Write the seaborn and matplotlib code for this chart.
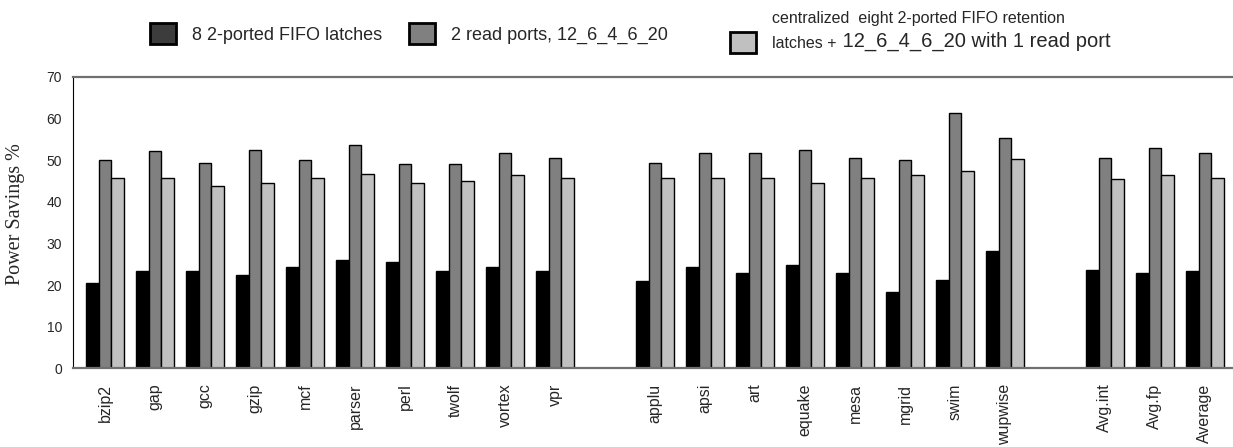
import matplotlib
matplotlib.use("Agg")
import matplotlib.pyplot as plt
from matplotlib.patches import Patch
import numpy as np
import pandas as pd
import seaborn as sns

# Benchmarks (integer suite, floating-point suite, averages)
int_benchmarks = ["bzip2", "gap", "gcc", "gzip", "mcf", "parser", "perl", "twolf", "vortex", "vpr"]
fp_benchmarks = ["applu", "apsi", "art", "equake", "mesa", "mgrid", "swim", "wupwise"]
avg_labels = ["Avg.int", "Avg.fp", "Average"]

series_names = [
    "8 2-ported FIFO latches",
    "2 read ports, 12_6_4_6_20",
    "centralized  eight 2-ported FIFO retention latches + 12_6_4_6_20 with 1 read port",
]

# Power savings (%) per benchmark, one list per configuration
fifo_latches = [20.5, 23.4, 23.4, 22.4, 24.3, 26.0, 25.5, 23.4, 24.3, 23.4,
                21.0, 24.3, 22.9, 24.8, 22.9, 18.3, 21.2, 28.2,
                23.6, 22.9, 23.4]
two_read_ports = [50.0, 52.1, 49.4, 52.3, 50.0, 53.5, 49.0, 49.0, 51.6, 50.4,
                  49.4, 51.6, 51.8, 52.3, 50.6, 49.9, 61.4, 55.4,
                  50.6, 52.8, 51.6]
retention_one_port = [45.6, 45.8, 43.7, 44.4, 45.8, 46.6, 44.4, 44.9, 46.3, 45.6,
                      45.8, 45.8, 45.8, 44.6, 45.6, 46.3, 47.3, 50.2,
                      45.4, 46.3, 45.8]

benchmarks = int_benchmarks + fp_benchmarks + avg_labels
df = pd.DataFrame({
    "benchmark": benchmarks * 3,
    "config": np.repeat(series_names, len(benchmarks)),
    "savings": fifo_latches + two_read_ports + retention_one_port,
})

# Blank slots separate the integer, floating-point and average groups
order = int_benchmarks + [" "] + fp_benchmarks + ["  "] + avg_labels
bar_colors = ["#000000", "#808080", "#c0c0c0"]

sns.set_style("white")
plt.rcParams["font.family"] = ["Liberation Sans", "DejaVu Sans"]

fig = plt.figure(figsize=(12.33, 4.47), dpi=100)
ax = fig.add_axes([0.0592, 0.176, 0.944, 0.6523])

sns.barplot(
    data=df, x="benchmark", y="savings", hue="config",
    order=order, hue_order=series_names, palette=bar_colors,
    width=0.75, gap=0, saturation=1, errorbar=None,
    edgecolor="black", linewidth=1.0, legend=False, ax=ax,
)

ax.set_xlim(-0.64, len(order) - 0.36)
ax.set_ylim(0, 70)
ax.set_yticks(np.arange(0, 71, 10))
ax.set_xlabel("")
ax.set_ylabel("Power Savings %", family=["Liberation Serif", "DejaVu Serif"],
              fontsize=14.5)
ax.yaxis.set_label_coords(-0.041, 0.53)

ax.tick_params(axis="y", length=0, pad=8, labelsize=10)
ax.tick_params(axis="x", length=0, pad=11, labelsize=11.5, labelrotation=90)

for side in ("top", "bottom"):
    ax.spines[side].set_color("#707070")
    ax.spines[side].set_linewidth(1.6)
ax.spines["left"].set_color("black")
ax.spines["left"].set_linewidth(0.8)
ax.spines["right"].set_visible(False)

# Legend: three entries placed along the top of the figure
legend_colors = ["#3c3c3c", "#808080", "#c0c0c0"]
legend_handles = [Patch(facecolor=c, edgecolor="black", linewidth=2.0) for c in legend_colors]
legend_kw = dict(loc="upper left", frameon=False, handlelength=1.45, handleheight=1.45,
                 handletextpad=0.9, borderpad=0, borderaxespad=0)

fig.legend([legend_handles[0]], ["8 2-ported FIFO latches"],
           bbox_to_anchor=(150 / 1233, 1 - 23 / 447), fontsize=13, **legend_kw)
fig.legend([legend_handles[1]], ["2 read ports, 12_6_4_6_20"],
           bbox_to_anchor=(409 / 1233, 1 - 23 / 447), fontsize=13, **legend_kw)

# Third entry: two-line label, second line mixes two text sizes
small = 11.5
leg3 = fig.legend([legend_handles[2]], ["latches +"],
                  bbox_to_anchor=(730 / 1233, 1 - 32 / 447), fontsize=small,
                  **{**legend_kw, "handlelength": 1.45 * 13 / small,
                     "handleheight": 1.45 * 13 / small, "handletextpad": 0.9 * 13 / small})
fig.canvas.draw()
label3 = leg3.get_texts()[0]
box = label3.get_window_extent().transformed(fig.transFigure.inverted())
fig.text(box.x1, box.y0, " 12_6_4_6_20 with 1 read port",
         ha="left", va="bottom", fontsize=14.5)
fig.text(box.x0, box.y1 + 10 / 447, "centralized  eight 2-ported FIFO retention",
         ha="left", va="bottom", fontsize=small)

fig.savefig("out.png", dpi=100)
